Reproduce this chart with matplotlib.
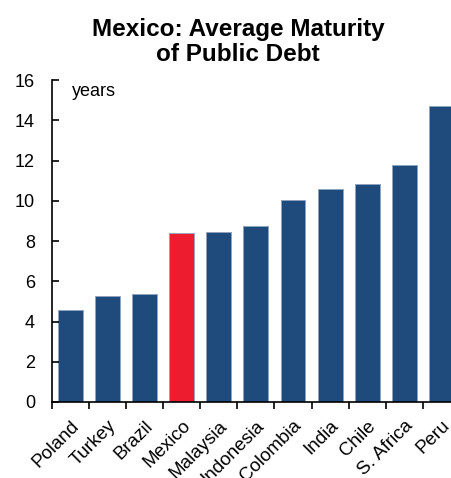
import matplotlib
matplotlib.use("Agg")
import matplotlib.pyplot as plt
import numpy as np

plt.rcParams['font.family'] = ['Liberation Sans', 'DejaVu Sans']

countries = ["Poland", "Turkey", "Brazil", "Mexico", "Malaysia", "Indonesia",
             "Colombia", "India", "Chile", "S. Africa", "Peru"]
maturity = [4.58, 5.28, 5.35, 8.42, 8.45, 8.73, 10.05, 10.58, 10.85, 11.8, 14.7]
highlight = "Mexico"
yticks = [0, 2, 4, 6, 8, 10, 12, 14, 16]

navy = "#1F4A7C"
red = "#ED1C2E"
colors = [red if c == highlight else navy for c in countries]

fig = plt.figure(figsize=(4.52, 4.78), dpi=100)
ax = fig.add_axes([0.1144, 0.159, 0.9035, 0.6736])

x = np.arange(len(countries))
ax.bar(x, maturity, width=0.67, color=colors, edgecolor="#8FA3C0", linewidth=0.6)

ax.set_xlim(-0.5, len(countries) - 0.5)
ax.set_ylim(0, 16)
ax.set_yticks(yticks)
ax.tick_params(axis='y', direction='in', length=5, width=1.2, labelsize=13, pad=12)

ax.set_xticks(x)
ax.set_xticklabels(countries, rotation=45, ha='right', rotation_mode='anchor', fontsize=13.5)
ax.tick_params(axis='x', which='major', length=0, pad=11)
ax.set_xticks(np.arange(-0.5, len(countries), 1.0), minor=True)
ax.tick_params(axis='x', which='minor', direction='out', length=5, width=1.2)

for s in ['top', 'right']:
    ax.spines[s].set_visible(False)
for s in ['left', 'bottom']:
    ax.spines[s].set_linewidth(1.2)

ax.text(0.05, 0.99, "years", transform=ax.transAxes, fontsize=13, va='top', ha='left')

fig.text(0.527, 0.962, "Mexico: Average Maturity\nof Public Debt", ha='center', va='top',
         fontsize=17.5, fontweight='bold', linespacing=1.12)

fig.savefig("out.png", dpi=100)
